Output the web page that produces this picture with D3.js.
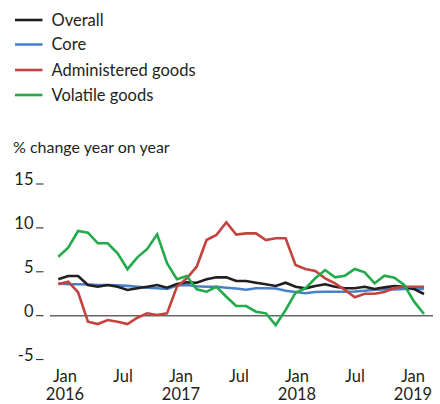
<!DOCTYPE html>
<html>
<head>
<meta charset="utf-8">
<script src="https://cdn.jsdelivr.net/npm/d3@7"></script>
<style>
  html, body { margin: 0; padding: 0; background: #ffffff; }
  svg text { font-family: Lato, "Open Sans", sans-serif; fill: #231f20; }
</style>
</head>
<body>
<svg id="chart" width="440" height="404"></svg>
<script>
const months = [
  "2016-01","2016-02","2016-03","2016-04","2016-05","2016-06","2016-07","2016-08","2016-09","2016-10","2016-11","2016-12",
  "2017-01","2017-02","2017-03","2017-04","2017-05","2017-06","2017-07","2017-08","2017-09","2017-10","2017-11","2017-12",
  "2018-01","2018-02","2018-03","2018-04","2018-05","2018-06","2018-07","2018-08","2018-09","2018-10","2018-11","2018-12",
  "2019-01","2019-02"
];
const overall = [4.15,4.52,4.52,3.5,3.3,3.5,3.3,2.93,3.12,3.3,3.5,3.19,
  3.6,3.8,3.76,4.15,4.37,4.37,3.95,3.95,3.76,3.58,3.38,3.76,
  3.3,3.12,3.38,3.58,3.3,3.12,3.12,3.3,3.04,3.23,3.38,3.3,
  3.04,2.47];
const core = [3.69,3.6,3.58,3.55,3.5,3.5,3.45,3.4,3.3,3.2,3.12,3.04,
  3.45,3.5,3.35,3.3,3.3,3.19,3.1,2.95,3.12,3.12,3.1,2.85,
  2.7,2.55,2.7,2.73,2.73,2.73,2.75,2.85,2.95,3.0,3.0,3.05,
  3.05,3.05];
const administered = [3.58,3.87,2.67,-0.68,-0.95,-0.49,-0.68,-0.95,-0.23,0.27,0.08,0.27,
  3.3,4.26,5.58,8.62,9.19,10.64,9.23,9.38,9.38,8.62,8.82,8.82,
  5.77,5.32,5.09,4.26,3.69,2.93,2.1,2.5,2.5,2.7,3.15,3.3,
  3.3,3.3];
const volatile = [6.72,7.74,9.65,9.45,8.25,8.25,7.1,5.3,6.65,7.6,9.27,5.97,
  4.15,4.52,3.0,2.73,3.3,2.16,1.1,1.1,0.46,0.27,-1.06,0.65,
  2.62,3.12,4.26,5.2,4.37,4.56,5.32,4.94,3.69,4.56,4.33,3.5,
  1.6,0.2];
const seriesNames = ["Overall","Core","Administered goods","Volatile goods"];
const seriesColors = ["#231f20","#4a80c6","#c4433d","#22ab4a"];
const yTicks = [-5,0,5,10,15];
const xTickTop = ["Jan","Jul","Jan","Jul","Jan","Jul","Jan"];
const xTickBottom = ["2016","","2017","","2018","","2019"];
const yTitle = "% change year on year";

const svg = d3.select("#chart");

const x = d3.scalePoint().domain(months).range([58.3, 424]);
const xLab = d3.scalePoint().domain(d3.range(xTickTop.length)).range([65, 413]);
const y = d3.scaleLinear().domain([-5, 15]).range([359.6, 184]);

// Legend
const legend = svg.append("g");
seriesNames.forEach((name, i) => {
  const ly = [20, 44.5, 70, 95][i];
  legend.append("line")
    .attr("x1", 15).attr("x2", 42.5).attr("y1", ly).attr("y2", ly)
    .attr("stroke", seriesColors[i]).attr("stroke-width", 2.6);
  legend.append("text")
    .attr("x", 51.5).attr("y", ly + 5.5)
    .attr("font-size", 16.5)
    .text(name);
});

// Y title
svg.append("text").attr("x", 13).attr("y", 153).attr("font-size", 16).text(yTitle);

// Y axis labels and tick dashes
const yAxis = svg.append("g");
yTicks.forEach(t => {
  yAxis.append("text")
    .attr("x", 33.5).attr("y", y(t) + 1)
    .attr("text-anchor", "end")
    .attr("font-size", 16.5)
    .text(t);
  yAxis.append("line")
    .attr("x1", 36).attr("x2", 43.5).attr("y1", y(t)).attr("y2", y(t))
    .attr("stroke", "#231f20").attr("stroke-width", 1);
});

// Zero line
svg.append("line")
  .attr("x1", 50).attr("x2", 433).attr("y1", y(0)).attr("y2", y(0))
  .attr("stroke", "#666").attr("stroke-width", 1.5);

// X axis labels
const xAxis = svg.append("g");
xTickTop.forEach((lab, i) => {
  xAxis.append("text").attr("x", xLab(i)).attr("y", 381.5)
    .attr("text-anchor", "middle").attr("font-size", 16.5).text(lab);
  if (xTickBottom[i]) {
    xAxis.append("text").attr("x", xLab(i)).attr("y", 400)
      .attr("text-anchor", "middle").attr("font-size", 16.5).text(xTickBottom[i]);
  }
});

// Lines
const line = d3.line().x((d, i) => x(months[i])).y(d => y(d));
const drawOrder = [1, 0, 2, 3];
const allSeries = [overall, core, administered, volatile];
drawOrder.forEach(k => {
  svg.append("path")
    .datum(allSeries[k])
    .attr("fill", "none")
    .attr("stroke", seriesColors[k])
    .attr("stroke-width", 2.6)
    .attr("stroke-linejoin", "miter")
    .attr("d", line);
});
</script>
</body>
</html>
